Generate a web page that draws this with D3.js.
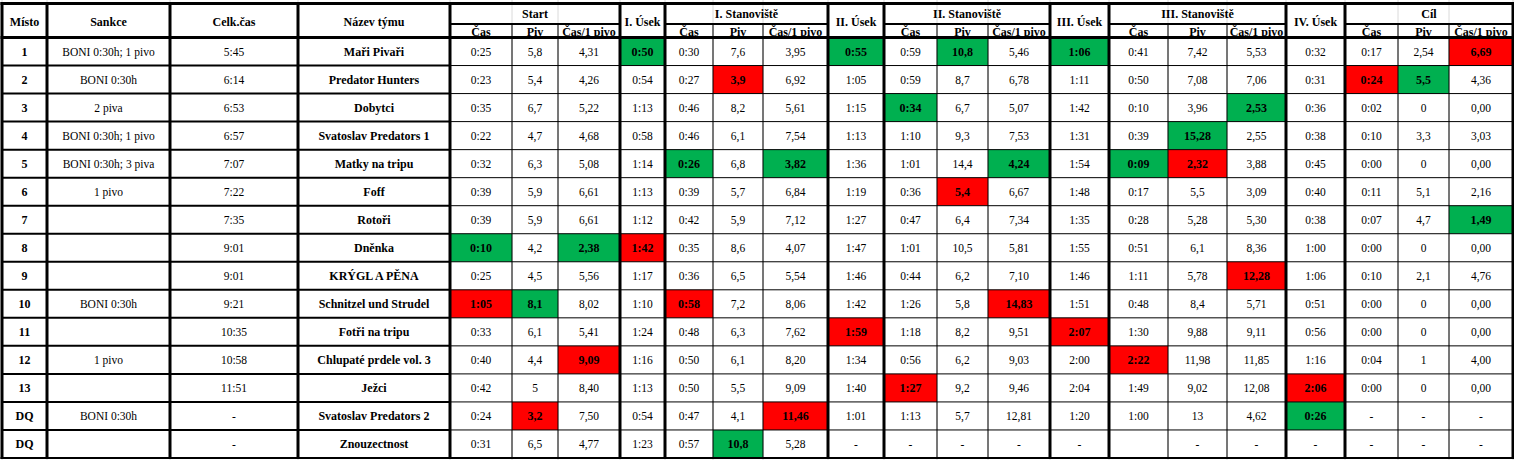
<!DOCTYPE html>
<html>
<head>
<meta charset="utf-8">
<script src="https://cdn.jsdelivr.net/npm/d3@7"></script>
<style>
body { margin: 0; background: #fff; }
svg text { fill: #000; }
</style>
</head>
<body>
<div id="table"></div>
<script>
const width = 1514, height = 460;

// header labels
const leadHeaders = ["Místo", "Sankce", "Celk.čas", "Název týmu"];
const groups = ["Start", "I. Úsek", "I. Stanoviště", "II. Úsek", "II. Stanoviště", "III. Úsek", "III. Stanoviště", "IV. Úsek", "Cíl"];
const subHeaders = ["Čas", "Piv", "Čas/1 pivo"];

// data, one entry per team
const places = ["1", "2", "3", "4", "5", "6", "7", "8", "9", "10", "11", "12", "13", "DQ", "DQ"];
const sanctions = ["BONI 0:30h; 1 pivo", "BONI 0:30h", "2 piva", "BONI 0:30h; 1 pivo", "BONI 0:30h; 3 piva", "1 pivo", "", "", "", "BONI 0:30h", "", "1 pivo", "", "BONI 0:30h", ""];
const totals = ["5:45", "6:14", "6:53", "6:57", "7:07", "7:22", "7:35", "9:01", "9:01", "9:21", "10:35", "10:58", "11:51", "-", "-"];
const teams = ["Maři Pivaři", "Predator Hunters", "Dobytci", "Svatoslav Predators 1", "Matky na tripu", "Foff", "Rotoři", "Dněnka", "KRÝGL A PĚNA", "Schnitzel und Strudel", "Fotři na tripu", "Chlupaté prdele vol. 3", "Ježci", "Svatoslav Predators 2", "Znouzectnost"];

const startCas  = ["0:25", "0:23", "0:35", "0:22", "0:32", "0:39", "0:39", "0:10", "0:25", "1:05", "0:33", "0:40", "0:42", "0:24", "0:31"];
const startPiv  = ["5,8", "5,4", "6,7", "4,7", "6,3", "5,9", "5,9", "4,2", "4,5", "8,1", "6,1", "4,4", "5", "3,2", "6,5"];
const startRate = ["4,31", "4,26", "5,22", "4,68", "5,08", "6,61", "6,61", "2,38", "5,56", "8,02", "5,41", "9,09", "8,40", "7,50", "4,77"];
const usek1     = ["0:50", "0:54", "1:13", "0:58", "1:14", "1:13", "1:12", "1:42", "1:17", "1:10", "1:24", "1:16", "1:13", "0:54", "1:23"];
const st1Cas    = ["0:30", "0:27", "0:46", "0:46", "0:26", "0:39", "0:42", "0:35", "0:36", "0:58", "0:48", "0:50", "0:50", "0:47", "0:57"];
const st1Piv    = ["7,6", "3,9", "8,2", "6,1", "6,8", "5,7", "5,9", "8,6", "6,5", "7,2", "6,3", "6,1", "5,5", "4,1", "10,8"];
const st1Rate   = ["3,95", "6,92", "5,61", "7,54", "3,82", "6,84", "7,12", "4,07", "5,54", "8,06", "7,62", "8,20", "9,09", "11,46", "5,28"];
const usek2     = ["0:55", "1:05", "1:15", "1:13", "1:36", "1:19", "1:27", "1:47", "1:46", "1:42", "1:59", "1:34", "1:40", "1:01", "-"];
const st2Cas    = ["0:59", "0:59", "0:34", "1:10", "1:01", "0:36", "0:47", "1:01", "0:44", "1:26", "1:18", "0:56", "1:27", "1:13", "-"];
const st2Piv    = ["10,8", "8,7", "6,7", "9,3", "14,4", "5,4", "6,4", "10,5", "6,2", "5,8", "8,2", "6,2", "9,2", "5,7", "-"];
const st2Rate   = ["5,46", "6,78", "5,07", "7,53", "4,24", "6,67", "7,34", "5,81", "7,10", "14,83", "9,51", "9,03", "9,46", "12,81", "-"];
const usek3     = ["1:06", "1:11", "1:42", "1:31", "1:54", "1:48", "1:35", "1:55", "1:46", "1:51", "2:07", "2:00", "2:04", "1:20", "-"];
const st3Cas    = ["0:41", "0:50", "0:10", "0:39", "0:09", "0:17", "0:28", "0:51", "1:11", "0:48", "1:30", "2:22", "1:49", "1:00", ""];
const st3Piv    = ["7,42", "7,08", "3,96", "15,28", "2,32", "5,5", "5,28", "6,1", "5,78", "8,4", "9,88", "11,98", "9,02", "13", "-"];
const st3Rate   = ["5,53", "7,06", "2,53", "2,55", "3,88", "3,09", "5,30", "8,36", "12,28", "5,71", "9,11", "11,85", "12,08", "4,62", "-"];
const usek4     = ["0:32", "0:31", "0:36", "0:38", "0:45", "0:40", "0:38", "1:00", "1:06", "0:51", "0:56", "1:16", "2:06", "0:26", "-"];
const cilCas    = ["0:17", "0:24", "0:02", "0:10", "0:00", "0:11", "0:07", "0:00", "0:10", "0:00", "0:00", "0:04", "0:00", "-", "-"];
const cilPiv    = ["2,54", "5,5", "0", "3,3", "0", "5,1", "4,7", "0", "2,1", "0", "0", "1", "0", "-", "-"];
const cilRate   = ["6,69", "4,36", "0,00", "3,03", "0,00", "2,16", "1,49", "0,00", "4,76", "0,00", "0,00", "4,00", "0,00", "-", "-"];

// best (green) and worst (red) results: [team index, column]
const best = [[0, "usek1"], [0, "usek2"], [0, "st2Piv"], [0, "usek3"], [1, "cilPiv"], [2, "st2Cas"], [2, "st3Rate"],
  [3, "st3Piv"], [4, "st1Cas"], [4, "st1Rate"], [4, "st2Rate"], [4, "st3Cas"], [6, "cilRate"], [7, "startCas"],
  [7, "startRate"], [9, "startPiv"], [13, "usek4"], [14, "st1Piv"]];
const worst = [[0, "cilRate"], [1, "st1Piv"], [1, "cilCas"], [4, "st3Piv"], [5, "st2Piv"], [7, "usek1"], [8, "st3Rate"],
  [9, "startCas"], [9, "st1Cas"], [9, "st2Rate"], [10, "usek2"], [10, "usek3"], [11, "startRate"], [11, "st3Cas"],
  [12, "st2Cas"], [12, "usek4"], [13, "startPiv"], [13, "st1Rate"]];

// columns in display order
const columns = [
  {key: "place", values: places, bold: true},
  {key: "sanction", values: sanctions},
  {key: "total", values: totals},
  {key: "team", values: teams, bold: true},
  {key: "startCas", values: startCas}, {key: "startPiv", values: startPiv}, {key: "startRate", values: startRate},
  {key: "usek1", values: usek1},
  {key: "st1Cas", values: st1Cas}, {key: "st1Piv", values: st1Piv}, {key: "st1Rate", values: st1Rate},
  {key: "usek2", values: usek2},
  {key: "st2Cas", values: st2Cas}, {key: "st2Piv", values: st2Piv}, {key: "st2Rate", values: st2Rate},
  {key: "usek3", values: usek3},
  {key: "st3Cas", values: st3Cas}, {key: "st3Piv", values: st3Piv}, {key: "st3Rate", values: st3Rate},
  {key: "usek4", values: usek4},
  {key: "cilCas", values: cilCas}, {key: "cilPiv", values: cilPiv}, {key: "cilRate", values: cilRate}
];
const colIndex = {};
columns.forEach((c, i) => colIndex[c.key] = i);

// layout
const colWidths = [45, 123, 128, 152, 62, 46, 62, 45, 48, 50, 65, 56, 53, 51, 62, 59, 59, 59, 59, 59, 53, 51, 64];
const x0 = 2;
const edges = [x0].concat(Array.from(d3.cumsum(colWidths), v => v + x0));
const topY = 3.5, midY = 24, headBottom = 37.5, bottomY = 458;
const green = "#00B050", red = "#FF0000";
const serif = "'Liberation Serif', Tinos, 'Times New Roman', Times, 'DejaVu Serif', 'Noto Serif', FreeSerif, 'Nimbus Roman', serif";

const y = d3.scaleBand().domain(d3.range(teams.length)).range([headBottom, bottomY]);

// header groups: first column index and span
const groupSpans = [];
let ci = 4;
groups.forEach(g => {
  const span = g.indexOf("Úsek") >= 0 ? 1 : 3;
  groupSpans.push({label: g, start: ci, span: span});
  ci += span;
});

const svg = d3.select("#table").append("svg")
  .attr("width", width)
  .attr("height", height)
  .style("font-family", serif);

// faint sheet gridlines behind the table
svg.append("g").selectAll("line")
  .data(edges)
  .enter().append("line")
  .attr("x1", d => d).attr("x2", d => d)
  .attr("y1", 0).attr("y2", height)
  .attr("stroke", "#dadada").attr("stroke-width", 1);

// coloured cells
const marks = best.map(d => ({row: d[0], col: colIndex[d[1]], fill: green}))
  .concat(worst.map(d => ({row: d[0], col: colIndex[d[1]], fill: red})));
const markKey = new Set(marks.map(m => m.row + "_" + m.col));

svg.append("g").selectAll("rect")
  .data(marks)
  .enter().append("rect")
  .attr("x", d => edges[d.col])
  .attr("y", d => y(d.row))
  .attr("width", d => edges[d.col + 1] - edges[d.col])
  .attr("height", y.bandwidth())
  .attr("fill", d => d.fill);

// header text
const head = svg.append("g").style("font-weight", "bold").style("font-size", "12px").attr("text-anchor", "middle");
head.selectAll(".lead")
  .data(leadHeaders)
  .enter().append("text")
  .attr("x", (d, i) => (edges[i] + edges[i + 1]) / 2)
  .attr("y", 26)
  .text(d => d);

head.selectAll(".grp")
  .data(groupSpans)
  .enter().append("text")
  .attr("x", d => (edges[d.start] + edges[d.start + d.span]) / 2)
  .attr("y", d => d.span === 1 ? 26 : 18)
  .text(d => d.label);

const subs = [];
groupSpans.filter(g => g.span === 3).forEach(g => {
  subHeaders.forEach((s, k) => subs.push({label: s, col: g.start + k}));
});
head.selectAll(".sub")
  .data(subs)
  .enter().append("text")
  .attr("x", d => (edges[d.col] + edges[d.col + 1]) / 2)
  .attr("y", 35.5)
  .text(d => d.label);

// body text
const cells = [];
columns.forEach((c, j) => {
  c.values.forEach((v, i) => {
    cells.push({row: i, col: j, text: v, bold: c.bold || markKey.has(i + "_" + j)});
  });
});

svg.append("g").attr("text-anchor", "middle").selectAll("text")
  .data(cells)
  .enter().append("text")
  .attr("x", d => (edges[d.col] + edges[d.col + 1]) / 2)
  .attr("y", d => y(d.row) + y.bandwidth() / 2 + 4.5)
  .style("font-size", d => d.bold ? "12px" : "11.5px")
  .style("font-weight", d => d.bold ? "bold" : "normal")
  .text(d => d.text);

// grid lines
const lines = svg.append("g").attr("stroke", "#000");
const thick = [0, 1, 2, 3, 4, 7, 8, 11, 12, 15, 16, 19, 20, 23];
const thin = d3.range(edges.length).filter(i => thick.indexOf(i) < 0);

// horizontal row separators
lines.selectAll(".rowL")
  .data(d3.range(1, teams.length))
  .enter().append("line")
  .attr("x1", edges[0]).attr("x2", edges[4])
  .attr("y1", d => y(d)).attr("y2", d => y(d))
  .attr("stroke-width", 2);
lines.selectAll(".rowR")
  .data(d3.range(1, teams.length))
  .enter().append("line")
  .attr("x1", edges[4]).attr("x2", edges[23])
  .attr("y1", d => y(d)).attr("y2", d => y(d))
  .attr("stroke-width", 1);

// line under group labels
lines.selectAll(".mid")
  .data(groupSpans.filter(g => g.span === 3))
  .enter().append("line")
  .attr("x1", d => edges[d.start]).attr("x2", d => edges[d.start + 3])
  .attr("y1", midY).attr("y2", midY)
  .attr("stroke-width", 2);

lines.selectAll(".thin")
  .data(thin)
  .enter().append("line")
  .attr("x1", d => edges[d]).attr("x2", d => edges[d])
  .attr("y1", midY).attr("y2", bottomY)
  .attr("stroke-width", 1);

lines.selectAll(".thick")
  .data(thick)
  .enter().append("line")
  .attr("x1", d => edges[d]).attr("x2", d => edges[d])
  .attr("y1", topY - 1.5).attr("y2", bottomY + 1)
  .attr("stroke-width", 3);

[[topY, 3], [headBottom, 3], [bottomY, 2]].forEach(h => {
  lines.append("line")
    .attr("x1", edges[0] - 1.5).attr("x2", edges[23] + 1.5)
    .attr("y1", h[0]).attr("y2", h[0])
    .attr("stroke-width", h[1]);
});
</script>
</body>
</html>
